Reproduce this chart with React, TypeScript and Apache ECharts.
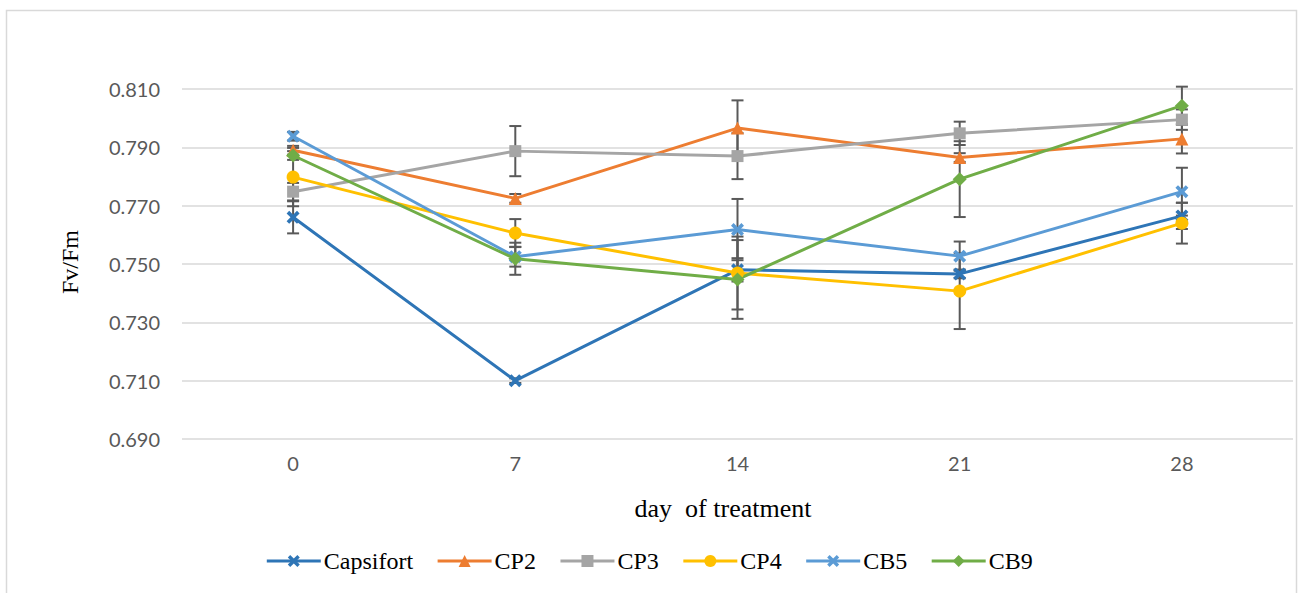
import React, { useEffect, useRef } from "react";
import * as echarts from "echarts";

const days = ["0", "7", "14", "21", "28"];
const yTicks = [0.69, 0.71, 0.73, 0.75, 0.77, 0.79, 0.81];

const capsifort = [0.766, 0.710, 0.748, 0.7466, 0.7665];
const capsifortErr = [0.0055, 0.0008, 0.004, 0.0015, 0.0045];
const cp2 = [0.789, 0.7725, 0.7966, 0.7865, 0.7929];
const cp2Err = [0.0015, 0.0015, 0.0095, 0.0015, 0.005];
const cp3 = [0.7748, 0.7887, 0.787, 0.7948, 0.7995];
const cp3Err = [0.003, 0.0086, 0.0079, 0.004, 0.0035];
const cp4 = [0.7798, 0.7606, 0.7469, 0.7407, 0.764];
const cp4Err = [0.01, 0.0048, 0.0125, 0.013, 0.007];
const cb5 = [0.7938, 0.7525, 0.7618, 0.7527, 0.7748];
const cb5Err = [0.0015, 0.0034, 0.0105, 0.005, 0.0082];
const cb9 = [0.7872, 0.7518, 0.7447, 0.7791, 0.8043];
const cb9Err = [0.0015, 0.0055, 0.0135, 0.013, 0.0065];

const X_SYMBOL =
  "path://M2,0 L5,3 L8,0 L10,2 L7,5 L10,8 L8,10 L5,7 L2,10 L0,8 L3,5 L0,2 Z";

const seriesDefs = [
  { name: "Capsifort", values: capsifort, err: capsifortErr, color: "#2E75B6", symbol: X_SYMBOL, size: 13 },
  { name: "CP2", values: cp2, err: cp2Err, color: "#ED7D31", symbol: "triangle", size: 13 },
  { name: "CP3", values: cp3, err: cp3Err, color: "#A5A5A5", symbol: "rect", size: 12 },
  { name: "CP4", values: cp4, err: cp4Err, color: "#FFC000", symbol: "circle", size: 13 },
  { name: "CB5", values: cb5, err: cb5Err, color: "#5B9BD5", symbol: X_SYMBOL, size: 13 },
  { name: "CB9", values: cb9, err: cb9Err, color: "#70AD47", symbol: "diamond", size: 14 },
];

export default function App() {
  const ref = useRef<HTMLDivElement>(null);
  useEffect(() => {
    document.body.style.margin = "0";
    const chart = echarts.init(ref.current!, undefined, { renderer: "svg" });

    const errData: number[][] = [];
    seriesDefs.forEach((s) => {
      s.values.forEach((v, i) => {
        errData.push([i, v - s.err[i], v + s.err[i]]);
      });
    });

    const lineSeries = seriesDefs.map((s, k) => ({
      type: "line",
      name: s.name,
      data: s.values,
      symbol: s.symbol,
      symbolSize: s.size,
      showAllSymbol: true,
      z: 3,
      lineStyle: { color: s.color, width: 3 },
      itemStyle: { color: s.color },
      ...(k === 0
        ? {
            markLine: {
              silent: true,
              symbol: "none",
              label: { show: false },
              lineStyle: { color: "#d9d9d9", width: 1.5, type: "solid" },
              data: yTicks.map((t) => ({ yAxis: t })),
              z: 0,
            },
          }
        : {}),
    }));

    chart.setOption({
      animation: false,
      grid: { left: 182, right: 5, top: 89, bottom: 154 },
      xAxis: {
        type: "category",
        data: days,
        boundaryGap: true,
        axisLine: { show: false },
        axisTick: { show: false },
        axisLabel: { color: "#595959", fontSize: 20, fontFamily: "Lato", margin: 14 },
      },
      yAxis: {
        type: "value",
        min: 0.69,
        max: 0.81,
        interval: 0.01,
        splitLine: { show: false },
        axisLine: { show: false },
        axisTick: { show: false },
        axisLabel: {
          color: "#595959",
          fontSize: 20,
          fontFamily: "Lato",
          margin: 22,
          formatter: (v: number) =>
            Math.round(v * 1000) % 20 === 10 ? v.toFixed(3) : "",
        },
      },
      legend: {
        data: seriesDefs.map((s) => s.name),
        left: "center",
        top: 544,
        itemWidth: 54,
        itemHeight: 15,
        itemGap: 23,
        lineStyle: { width: 3 },
        textStyle: { fontFamily: "Liberation Serif", fontSize: 24, color: "#000", padding: [0, 0, 0, -2] },
      },
      graphic: [
        {
          type: "rect",
          shape: { x: 6.5, y: 10.5, width: 1290, height: 600 },
          style: { fill: "none", stroke: "#d9d9d9", lineWidth: 1.5 },
          silent: true,
        },
        {
          type: "text",
          x: 70,
          y: 262,
          rotation: Math.PI / 2,
          style: {
            text: "Fv/Fm",
            fontFamily: "Liberation Serif",
            fontSize: 24,
            fill: "#000",
            align: "center",
            verticalAlign: "middle",
          },
        },
        {
          type: "text",
          x: 723,
          y: 508,
          style: {
            text: "day  of treatment",
            fontFamily: "Liberation Serif",
            fontSize: 26,
            fill: "#000",
            align: "center",
            verticalAlign: "middle",
          },
        },
      ],
      series: [
        {
          type: "custom",
          name: "err",
          z: 2,
          silent: true,
          encode: { x: 0, y: [1, 2] },
          data: errData,
          renderItem: (params: any, api: any) => {
            const idx = api.value(0);
            const lo = api.coord([idx, api.value(1)]);
            const hi = api.coord([idx, api.value(2)]);
            const x = lo[0];
            const w = 6;
            const style = { stroke: "#595959", lineWidth: 2 };
            return {
              type: "group",
              children: [
                { type: "line", shape: { x1: x, y1: lo[1], x2: x, y2: hi[1] }, style },
                { type: "line", shape: { x1: x - w, y1: lo[1], x2: x + w, y2: lo[1] }, style },
                { type: "line", shape: { x1: x - w, y1: hi[1], x2: x + w, y2: hi[1] }, style },
              ],
            };
          },
        },
        ...lineSeries,
      ],
    });
    return () => chart.dispose();
  }, []);
  return <div ref={ref} style={{ width: 1298, height: 593 }} />;
}
